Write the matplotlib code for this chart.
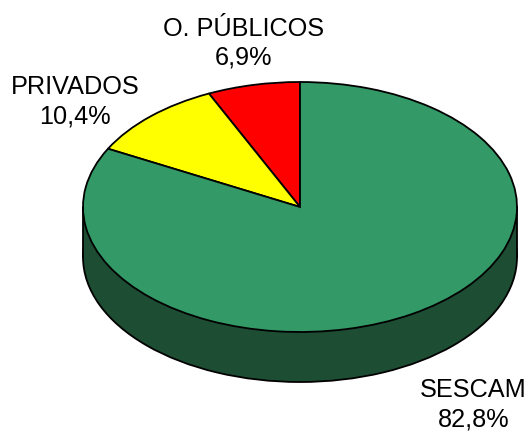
import matplotlib
matplotlib.use('Agg')
import matplotlib.pyplot as plt
import numpy as np

categories = ['SESCAM', 'PRIVADOS', 'O. PÚBLICOS']
shares = [82.8, 10.4, 6.9]
share_labels = ['82,8%', '10,4%', '6,9%']
top_colors = ['#339966', '#ffff00', '#ff0000']
side_color = '#1d4d33'

plt.rcParams['font.family'] = ['Liberation Sans', 'DejaVu Sans']

fig = plt.figure(figsize=(5.3, 4.32), dpi=100)
ax = fig.add_axes([0, 0, 1, 1])

# side of the disc: lower ellipse + band, then the top pie over it
depth = 0.4
ax.pie([1], radius=1, center=(0, -depth), colors=[side_color],
       wedgeprops={'edgecolor': 'black', 'linewidth': 1.3}, normalize=True)
ax.fill_between([-1, 1], [0, 0], [-depth, -depth], color=side_color, linewidth=0, zorder=2)
ax.plot([-1, -1], [0, -depth], color='black', lw=1.3, zorder=3)
ax.plot([1, 1], [0, -depth], color='black', lw=1.3, zorder=3)

# order of slices clockwise from 12 o'clock in the reference: counterclockwise = red, yellow, green
wedges, _ = ax.pie(shares[::-1], radius=1, center=(0, 0), startangle=90, counterclock=True,
                   colors=top_colors[::-1], normalize=True,
                   wedgeprops={'edgecolor': 'black', 'linewidth': 1.3, 'zorder': 4})

# stretch the round pie into the flat ellipse of the picture
ax.set_aspect('auto')
ax.set_xlim(-300 / 217, 230 / 217)
ax.set_ylim(-225 / 125, 207 / 125)
ax.axis('off')

fs = 18.2
ax.text(0.80, -1.58, categories[0] + '\n' + share_labels[0], ha='center', va='center',
        fontsize=fs, linespacing=1.27, zorder=5)
ax.text(-1.035, 0.84, categories[1] + '\n' + share_labels[1], ha='center', va='center',
        fontsize=fs, linespacing=1.27, zorder=5)
ax.text(-0.26, 1.31, categories[2] + '\n' + share_labels[2], ha='center', va='center',
        fontsize=fs, linespacing=1.27, zorder=5)

plt.savefig('out.png', dpi=100)
